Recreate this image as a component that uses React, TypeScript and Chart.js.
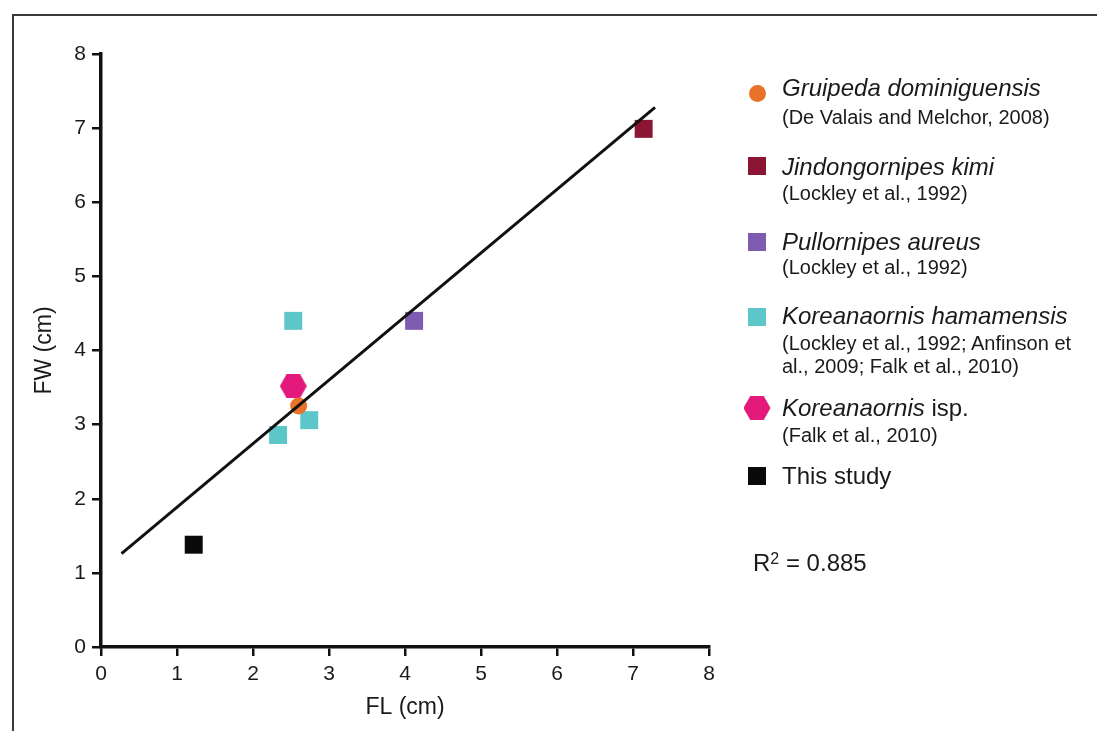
import React, { useEffect, useRef } from "react";
import { Chart, registerables } from "chart.js";

Chart.register(...registerables);

// ---- data ----
const gruipedaX = [2.6];
const gruipedaY = [3.25];
const jindongX = [7.14];
const jindongY = [6.99];
const pullornipesX = [4.12];
const pullornipesY = [4.4];
const hamamensisX = [2.53, 2.74, 2.33];
const hamamensisY = [4.4, 3.06, 2.86];
const koreanaIspX = [2.53];
const koreanaIspY = [3.52];
const thisStudyX = [1.22];
const thisStudyY = [1.38];
const regressionX = [0.27, 7.29];
const regressionY = [1.26, 7.28];
const xTicks = [0, 1, 2, 3, 4, 5, 6, 7, 8];
const yTicks = [0, 1, 2, 3, 4, 5, 6, 7, 8];

const legendTitles = [
  "Gruipeda dominiguensis",
  "Jindongornipes kimi",
  "Pullornipes aureus",
  "Koreanaornis hamamensis",
  "Koreanaornis",
  "This study",
];
const legendSubs = [
  ["(De Valais and Melchor, 2008)"],
  ["(Lockley et al., 1992)"],
  ["(Lockley et al., 1992)"],
  ["(Lockley et al., 1992; Anfinson et", "al., 2009; Falk et al., 2010)"],
  ["(Falk et al., 2010)"],
  [],
];
const rSquared = "0.885";

const COLORS = {
  orange: "#E8722A",
  maroon: "#8A1634",
  purple: "#7D5BB0",
  cyan: "#5CC6C9",
  pink: "#E3197B",
  black: "#0a0a0a",
};

const FONT = "'Liberation Sans', Arial, Helvetica, sans-serif";

function zip(xs: number[], ys: number[]) {
  return xs.map((x, i) => ({ x, y: ys[i] }));
}

function makeHexagon(w: number, h: number, color: string) {
  const c = document.createElement("canvas");
  c.width = w;
  c.height = h;
  const ctx = c.getContext("2d")!;
  ctx.fillStyle = color;
  ctx.beginPath();
  ctx.moveTo(0, h / 2);
  ctx.lineTo(w / 4, 0);
  ctx.lineTo((3 * w) / 4, 0);
  ctx.lineTo(w, h / 2);
  ctx.lineTo((3 * w) / 4, h);
  ctx.lineTo(w / 4, h);
  ctx.closePath();
  ctx.fill();
  return c;
}

function Marker({ kind, color, cx, cy }: { kind: string; color: string; cx: number; cy: number }) {
  if (kind === "circle") {
    return (
      <div
        style={{
          position: "absolute",
          left: cx - 8.5,
          top: cy - 8.5,
          width: 17,
          height: 17,
          borderRadius: "50%",
          background: color,
        }}
      />
    );
  }
  if (kind === "hex") {
    return (
      <div
        style={{
          position: "absolute",
          left: cx - 13.5,
          top: cy - 12,
          width: 27,
          height: 24,
          background: color,
          clipPath: "polygon(0% 50%, 25% 0%, 75% 0%, 100% 50%, 75% 100%, 25% 100%)",
        }}
      />
    );
  }
  return (
    <div
      style={{
        position: "absolute",
        left: cx - 9,
        top: cy - 9,
        width: 18,
        height: 18,
        background: color,
      }}
    />
  );
}

export default function App() {
  const canvasRef = useRef<HTMLCanvasElement | null>(null);

  useEffect(() => {
    const canvas = canvasRef.current;
    if (!canvas) return;
    const hex = makeHexagon(27, 24, COLORS.pink);
    const sq = 12.7;
    const chart = new Chart(canvas, {
      type: "scatter",
      data: {
        datasets: [
          {
            type: "line",
            label: "regression",
            data: zip(regressionX, regressionY),
            borderColor: "#111",
            borderWidth: 3,
            pointRadius: 0,
            fill: false,
          } as any,
          {
            label: "Gruipeda dominiguensis",
            data: zip(gruipedaX, gruipedaY),
            pointStyle: "circle",
            pointRadius: 8.5,
            backgroundColor: COLORS.orange,
            borderColor: COLORS.orange,
            borderWidth: 0,
          },
          {
            label: "Koreanaornis isp.",
            data: zip(koreanaIspX, koreanaIspY),
            pointStyle: hex as any,
            pointRadius: 13,
          },
          {
            label: "Jindongornipes kimi",
            data: zip(jindongX, jindongY),
            pointStyle: "rect",
            pointRadius: sq,
            backgroundColor: COLORS.maroon,
            borderColor: COLORS.maroon,
            borderWidth: 0,
          },
          {
            label: "Pullornipes aureus",
            data: zip(pullornipesX, pullornipesY),
            pointStyle: "rect",
            pointRadius: sq,
            backgroundColor: COLORS.purple,
            borderColor: COLORS.purple,
            borderWidth: 0,
          },
          {
            label: "Koreanaornis hamamensis",
            data: zip(hamamensisX, hamamensisY),
            pointStyle: "rect",
            pointRadius: sq,
            backgroundColor: COLORS.cyan,
            borderColor: COLORS.cyan,
            borderWidth: 0,
          },
          {
            label: "This study",
            data: zip(thisStudyX, thisStudyY),
            pointStyle: "rect",
            pointRadius: sq,
            backgroundColor: COLORS.black,
            borderColor: COLORS.black,
            borderWidth: 0,
          },
        ],
      },
      options: {
        animation: false,
        responsive: false,
        maintainAspectRatio: false,
        events: [],
        layout: { padding: { left: 0, top: 54, right: 388, bottom: 0 } },
        plugins: {
          legend: { display: false },
          tooltip: { enabled: false },
        },
        scales: {
          x: {
            type: "linear",
            min: 0,
            max: 8,
            afterFit: (s: any) => {
              s.height = 84;
            },
            afterBuildTicks: (s: any) => {
              s.ticks = xTicks.map((v) => ({ value: v }));
            },
            border: { display: true, color: "#111", width: 3.5 },
            grid: {
              display: true,
              drawOnChartArea: false,
              drawTicks: true,
              tickLength: 9,
              tickWidth: 2.5,
              color: "#111",
              lineWidth: 2.5,
            },
            ticks: {
              padding: 6,
              color: "#1a1a1a",
              font: { family: FONT, size: 21 },
              maxRotation: 0,
              autoSkip: false,
            },
            title: {
              display: true,
              text: "FL (cm)",
              color: "#1a1a1a",
              font: { family: FONT, size: 23 },
              padding: { top: 0, bottom: 10 },
            },
          },
          y: {
            type: "linear",
            min: 0,
            max: 8,
            afterFit: (s: any) => {
              s.width = 101;
            },
            afterBuildTicks: (s: any) => {
              s.ticks = yTicks.map((v) => ({ value: v }));
            },
            border: { display: true, color: "#111", width: 3.5 },
            grid: {
              display: true,
              drawOnChartArea: false,
              drawTicks: true,
              tickLength: 9,
              tickWidth: 2.5,
              color: "#111",
              lineWidth: 2.5,
            },
            ticks: {
              padding: 6,
              color: "#1a1a1a",
              font: { family: FONT, size: 21 },
              autoSkip: false,
            },
            title: {
              display: true,
              text: "FW (cm)",
              color: "#1a1a1a",
              font: { family: FONT, size: 23 },
              padding: { top: 31, bottom: 0 },
            },
          },
        },
      },
    } as any);
    return () => chart.destroy();
  }, []);

  const legendLayout = [
    { kind: "circle", color: COLORS.orange, my: 93, ty: 88, sy: [117] },
    { kind: "rect", color: COLORS.maroon, my: 166, ty: 167, sy: [193] },
    { kind: "rect", color: COLORS.purple, my: 242, ty: 242, sy: [267] },
    { kind: "rect", color: COLORS.cyan, my: 317, ty: 316, sy: [343, 366] },
    { kind: "hex", color: COLORS.pink, my: 408, ty: 408, sy: [435] },
    { kind: "rect", color: COLORS.black, my: 476, ty: 476, sy: [] },
  ];

  const titleSize = 24;
  const subSize = 20;

  return (
    <div
      style={{
        position: "fixed",
        left: 0,
        top: 0,
        width: 1097,
        height: 731,
        overflow: "hidden",
        background: "#ffffff",
        fontFamily: FONT,
        color: "#1a1a1a",
      }}
    >
      <div
        style={{
          position: "absolute",
          left: 12,
          top: 14,
          width: 1200,
          height: 900,
          borderTop: "2px solid #3a3a3a",
          borderLeft: "2px solid #3a3a3a",
        }}
      />
      <canvas
        ref={canvasRef}
        width={1097}
        height={731}
        style={{ position: "absolute", left: 0, top: 0, width: 1097, height: 731 }}
      />
      {legendLayout.map((it, i) => (
        <React.Fragment key={i}>
          <Marker kind={it.kind} color={it.color} cx={757} cy={it.my} />
          <div
            style={{
              position: "absolute",
              left: 782,
              top: it.ty - titleSize * 0.6,
              fontSize: titleSize,
              lineHeight: `${titleSize * 1.2}px`,
              whiteSpace: "nowrap",
              fontStyle: i === 5 ? "normal" : "italic",
            }}
          >
            {legendTitles[i]}
            {i === 4 ? <span style={{ fontStyle: "normal" }}> isp.</span> : null}
          </div>
          {legendSubs[i].map((s, j) => (
            <div
              key={j}
              style={{
                position: "absolute",
                left: 782,
                top: it.sy[j] - subSize * 0.6,
                fontSize: subSize,
                lineHeight: `${subSize * 1.2}px`,
                whiteSpace: "nowrap",
              }}
            >
              {s}
            </div>
          ))}
        </React.Fragment>
      ))}
      <div
        style={{
          position: "absolute",
          left: 753,
          top: 563 - titleSize * 0.6,
          fontSize: titleSize,
          lineHeight: `${titleSize * 1.2}px`,
          whiteSpace: "nowrap",
        }}
      >
        R<sup style={{ fontSize: 16, verticalAlign: "top", position: "relative", top: -4 }}>2</sup> = {rSquared}
      </div>
    </div>
  );
}
